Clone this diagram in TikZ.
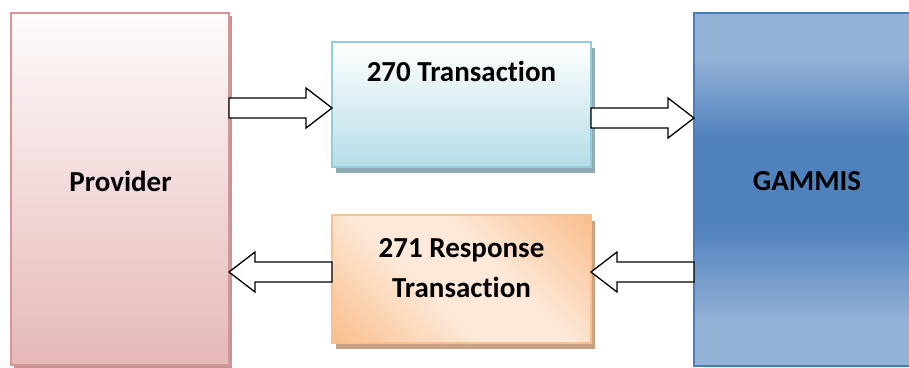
\documentclass[tikz,border=0pt]{standalone}
\usepackage{fontspec}
\setmainfont{Carlito}[Ligatures=NoCommon]
\usetikzlibrary{calc,shadows}
\definecolor{provtop}{HTML}{FEFBFB}
\definecolor{provbot}{HTML}{E5B8B7}
\definecolor{provdraw}{HTML}{D99594}
\definecolor{provshad}{HTML}{C29698}
\definecolor{bltop}{HTML}{FFFFFF}
\definecolor{blbot}{HTML}{B6DDE8}
\definecolor{bldraw}{HTML}{92CDDC}
\definecolor{blshad}{HTML}{8FACB4}
\definecolor{ordark}{HTML}{F9BF8E}
\definecolor{orlight}{HTML}{FDE9D9}
\definecolor{ordraw}{HTML}{FAC08F}
\definecolor{orshad}{HTML}{C9A284}
\definecolor{gamlight}{HTML}{95B3D7}
\definecolor{gamdark}{HTML}{4F81BD}
\definecolor{gamdraw}{HTML}{4A7EBB}
\pgfdeclareverticalshading{gamshade}{100bp}{color(0bp)=(gamlight); color(31bp)=(gamlight); color(45bp)=(gamdark); color(57bp)=(gamdark); color(69bp)=(gamlight); color(100bp)=(gamlight)}
\pgfdeclarehorizontalshading{orshade}{100bp}{color(0bp)=(ordark); color(24bp)=(ordark); color(44bp)=(orlight); color(56bp)=(orlight); color(76bp)=(ordark); color(100bp)=(ordark)}
\newcommand\blkarrow[3]{%
  \draw[blk] let \p1=(#1), \p2=(#2) in
    (\x1,\y1+10pt) -- (\x2-#3,\y1+10pt) -- (\x2-#3,\y1+20pt) -- (\x2,\y1)
    -- (\x2-#3,\y1-20pt) -- (\x2-#3,\y1-10pt) -- (\x1,\y1-10pt) -- cycle;}
\tikzset{
  box/.style={rectangle, inner sep=0pt, outer sep=0pt, line width=1.5pt, anchor=north west},
  provbox/.style={box, draw=provdraw, top color=provtop, bottom color=provbot,
    drop shadow={shadow xshift=2.5pt, shadow yshift=-3pt, fill=provshad, opacity=1}},
  bluebox/.style={box, draw=bldraw, top color=bltop, bottom color=blbot,
    drop shadow={shadow xshift=3.5pt, shadow yshift=-5.5pt, fill=blshad, opacity=1}},
  orbox/.style={box, fill=orlight,
    drop shadow={shadow xshift=3.5pt, shadow yshift=-5.5pt, fill=orshad, opacity=1}},
  orborder/.style={draw=ordraw, line width=1.5pt},
  gambox/.style={box, draw=gamdraw, shading=gamshade},
  lbl/.style={font=\bfseries\fontsize{29pt}{40pt}\selectfont, text=black, inner sep=0pt, align=center},
  blk/.style={draw=black, fill=white, line width=1.3pt, line join=miter}
}
\begin{document}
\begin{tikzpicture}[x=1pt,y=-1pt]
\useasboundingbox (0,0) rectangle (909,367);
\clip (0,0) rectangle (909,367);
\node[provbox, minimum width=218pt, minimum height=352pt] (prov) at (11,13) {};
\node[bluebox, minimum width=259pt, minimum height=125pt] (t270) at (332,42) {};
\node[orbox, minimum width=259pt, minimum height=128pt] (t271) at (332,215) {};
\begin{scope}
  \clip (t271.south west) rectangle (t271.north east);
  \shade[shading=orshade, shading angle=45] ($(t271.center)+(-130,-130)$) rectangle ($(t271.center)+(130,130)$);
\end{scope}
\draw[orborder] (t271.south west) rectangle (t271.north east);
\node[gambox, minimum width=226pt, minimum height=353pt] (gam) at (694,13) {};
\node[lbl, anchor=base] (provtxt) at (120.5,191) {Provider};
\node[lbl, anchor=base] (gamtxt) at (807,190) {GAMMIS};
\node[lbl, anchor=base] (t270txt) at (461.5,81.5) {270 Transaction};
\node[lbl] (t271txt) at (461.5,268.5) {271 Response\\Transaction};
\coordinate (r1) at (0,108);
\coordinate (r2) at (0,118);
\coordinate (r3) at (0,272);
\blkarrow{prov.east |- r1}{t270.west |- r1}{26pt}
\blkarrow{t270.east |- r2}{gam.west |- r2}{26pt}
\blkarrow{gam.west |- r3}{t271.east |- r3}{-26pt}
\blkarrow{t271.west |- r3}{prov.east |- r3}{-26pt}
\end{tikzpicture}
\end{document}
